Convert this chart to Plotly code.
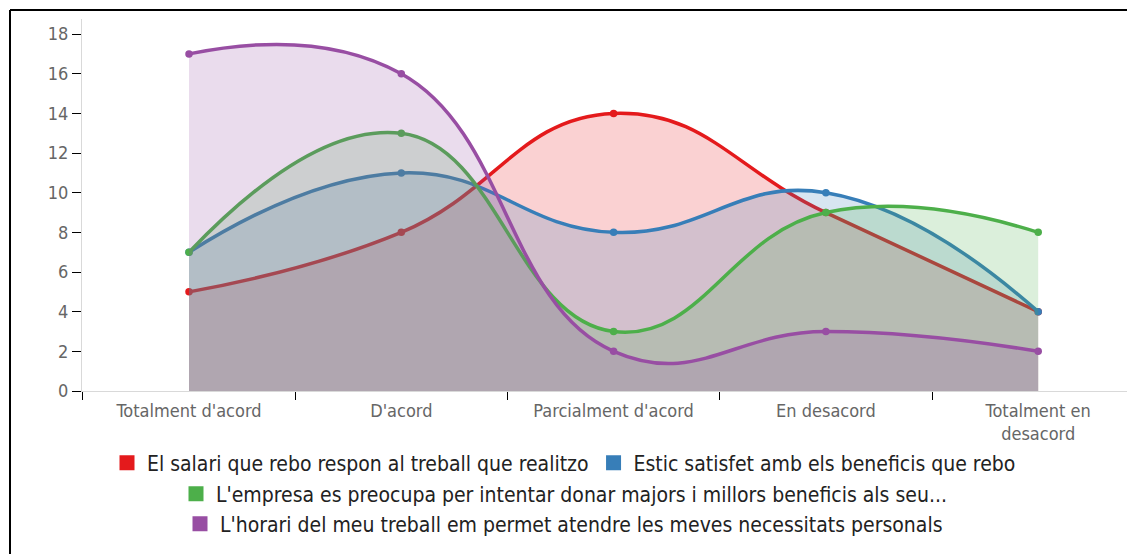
import plotly.graph_objs as go

# categories on the x axis
categories = ["Totalment d'acord", "D'acord", "Parcialment d'acord", "En desacord",
              "Totalment en<br>desacord"]

# series (answer counts)
salari = [5, 8, 14, 9, 4]
beneficis = [7, 11, 8, 10, 4]
empresa = [7, 13, 3, 9, 8]
horari = [17, 16, 2, 3, 2]

names = ["El salari que rebo respon al treball que realitzo",
         "Estic satisfet amb els beneficis que rebo",
         "L'empresa es preocupa per intentar donar majors i millors beneficis als seu...",
         "L'horari del meu treball em permet atendre les meves necessitats personals"]

colors = ['#e41a1c', '#377eb8', '#4daf4a', '#984ea3']
fills = ['rgba(228,26,28,0.2)', 'rgba(55,126,184,0.2)',
         'rgba(77,175,74,0.2)', 'rgba(152,78,163,0.2)']
legends = ['legend', 'legend', 'legend2', 'legend3']

FONT = 'Liberation Sans Narrow, DejaVu Sans Condensed, sans-serif'

traces = []
for vals, col, fc in zip([salari, beneficis, empresa, horari], colors, fills):
    traces.append(go.Scatter(
        x=categories, y=vals,
        mode='lines+markers',
        line=dict(color=col, width=3.5, shape='spline', smoothing=1.3),
        marker=dict(color=col, size=7.5),
        fill='tozeroy', fillcolor=fc,
        showlegend=False, hoverinfo='skip'))

# legend entries with square swatches
for name, col, lg in zip(names, colors, legends):
    traces.append(go.Scatter(
        x=[None], y=[None], mode='markers', name=name, legend=lg,
        marker=dict(color=col, size=15, symbol='square')))

fig = go.Figure(data=traces)

# the page body has an 8px margin, so the figure is a bit smaller than the window
OFF = 8
W, H = 1135 - OFF, 554 - OFF
# pixel geometry of the plot area (figure coords)
L, R, T, B = 82 - OFF, 1135 - OFF, 19 - OFF, 391 - OFF
X0, DX = 189 - OFF, 212.3   # first category centre, category step

legfont = dict(family=FONT, size=21, color='#222222')
def leg(ypx):
    return dict(orientation='h', xref='container', x=(564 - OFF) / W, xanchor='center',
                yref='container', y=1 - (ypx - OFF) / H, yanchor='middle',
                font=legfont, bgcolor='rgba(0,0,0,0)',
                itemwidth=30, tracegroupgap=0)

fx = lambda px: (px - OFF - L) / (R - L)
fy = lambda px: (B - (px - OFF)) / (B - T)

fig.update_layout(
    width=W, height=H,
    margin=dict(l=L, r=W - R, t=T, b=H - B, autoexpand=False),
    paper_bgcolor='white', plot_bgcolor='white',
    font=dict(family=FONT),
    legend=leg(463),
    legend2=leg(494),
    legend3=leg(524),
    xaxis=dict(
        range=[(L - X0) / DX, (R - X0) / DX],
        showline=True, linecolor='#d9d9d9', linewidth=1,
        ticks='outside', tickson='boundaries', ticklen=8, tickcolor='black',
        ticklabelstandoff=3,
        tickfont=dict(family=FONT, size=18, color='#666666'),
        showgrid=False, zeroline=False, fixedrange=True),
    yaxis=dict(
        range=[0, 18.76], tickvals=[0, 2, 4, 6, 8, 10, 12, 14, 16, 18],
        showline=True, linecolor='#d9d9d9', linewidth=1,
        ticks='outside', ticklen=9, tickcolor='black',
        tickfont=dict(family=FONT, size=18, color='#666666'),
        showgrid=False, zeroline=False, fixedrange=True),
    shapes=[
        # frame around the chart (top and left edges)
        dict(type='line', xref='paper', yref='paper',
             x0=fx(10), x1=1.02, y0=fy(10), y1=fy(10),
             line=dict(color='black', width=2)),
        dict(type='line', xref='paper', yref='paper',
             x0=fx(10), x1=fx(10), y0=fy(10), y1=fy(560),
             line=dict(color='black', width=2)),
    ],
)

fig.write_html("out.html")
